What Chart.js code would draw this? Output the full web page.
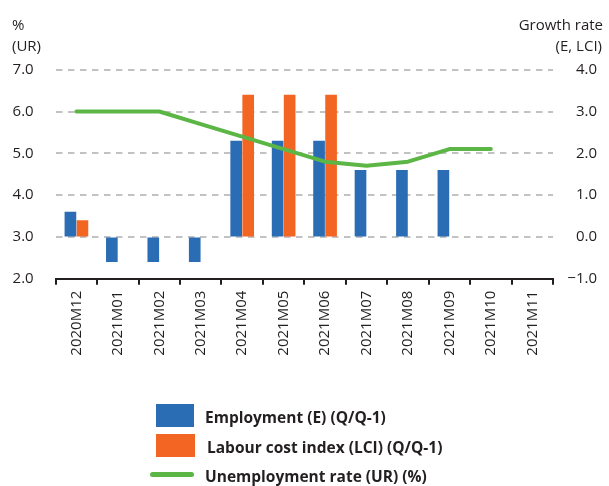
<!DOCTYPE html>
<html>
<head>
<meta charset="utf-8">
<script src="https://cdn.jsdelivr.net/npm/chart.js@4"></script>
<style>
  html, body { margin: 0; padding: 0; background: #fff; }
  #wrap { position: relative; width: 609px; height: 486px; font-family: 'Open Sans', sans-serif; color: #231f20; }
  #wrap canvas { position: absolute; left: 0; top: 0; }
  .lbl { position: absolute; font-size: 15px; line-height: 20px; white-space: nowrap; }
  .leg { position: absolute; font-size: 15.5px; font-weight: bold; line-height: 20px; white-space: nowrap; }
  .box { position: absolute; }
</style>
</head>
<body>
<div id="wrap">
  <canvas id="chart" width="609" height="486"></canvas>
  <div class="lbl" style="left:12px;top:14px">%</div>
  <div class="lbl" style="left:12px;top:35px">(UR)</div>
  <div class="lbl" style="right:6px;top:14px;text-align:right">Growth rate</div>
  <div class="lbl" style="right:7px;top:35px;text-align:right">(E, LCI)</div>

  <div class="box" style="left:156px;top:404px;width:38px;height:23px;background:#2a6db5"></div>
  <div class="leg" style="left:205px;top:407px">Employment (E) (Q/Q-1)</div>
  <div class="box" style="left:156px;top:434px;width:39px;height:23px;background:#f26522"></div>
  <div class="leg" style="left:207px;top:437px">Labour cost index (LCI) (Q/Q-1)</div>
  <div class="box" style="left:150px;top:472px;width:44px;height:5px;border-radius:3px;background:#5cb646"></div>
  <div class="leg" style="left:205px;top:466px">Unemployment rate (UR) (%)</div>
</div>
<script>
const months = ['2020M12', '2021M01', '2021M02', '2021M03', '2021M04', '2021M05', '2021M06', '2021M07', '2021M08', '2021M09', '2021M10', '2021M11']
const employment = [0.6, -0.6, -0.6, -0.6, 2.3, 2.3, 2.3, 1.6, 1.6, 1.6, null, null]
const labourCost = [0.4, null, null, null, 3.4, 3.4, 3.4, null, null, null, null, null]
const unemployment = [6.0, 6.0, 6.0, 5.7, 5.4, 5.1, 4.8, 4.7, 4.8, 5.1, 5.1, null]

const fontSpec = { family: "'Open Sans', sans-serif", size: 15 }
const fmt = v => (v < 0 ? '\u2212' : '') + Math.abs(v).toFixed(1)

new Chart(document.getElementById('chart').getContext('2d'), {
  type: 'bar',
  data: {
    labels: months,
    datasets: [
      {
        type: 'line',
        label: 'Unemployment rate (UR) (%)',
        data: unemployment,
        yAxisID: 'yUR',
        borderColor: '#5cb646',
        borderWidth: 4,
        pointRadius: 0,
        tension: 0,
        borderCapStyle: 'round',
        borderJoinStyle: 'round',
        order: 0
      },
      {
        label: 'Employment (E) (Q/Q-1)',
        data: employment,
        yAxisID: 'yGR',
        backgroundColor: '#2a6db5',
        order: 1
      },
      {
        label: 'Labour cost index (LCI) (Q/Q-1)',
        data: labourCost,
        yAxisID: 'yGR',
        backgroundColor: '#f26522',
        order: 1
      }
    ]
  },
  options: {
    responsive: false,
    animation: false,
    datasets: { bar: { categoryPercentage: 0.58, barPercentage: 0.97 } },
    layout: { padding: { left: 0, right: 12, top: 69.7, bottom: 117.3 } },
    plugins: { legend: { display: false }, tooltip: { enabled: false } },
    scales: {
      x: {
        offset: true,
        grid: { drawOnChartArea: false, drawTicks: true, tickLength: 6, color: '#231f20', lineWidth: 2, offset: true },
        border: { color: '#231f20', width: 2 },
        ticks: { maxRotation: 90, minRotation: 90, autoSkip: false, color: '#231f20', font: fontSpec, padding: 6 },
        afterFit: s => { s.height = 90 }
      },
      yUR: {
        position: 'left',
        min: 2,
        max: 7,
        ticks: { stepSize: 1, callback: fmt, color: '#231f20', font: fontSpec, padding: 22 },
        grid: { color: '#c2c2c2', lineWidth: 2, drawTicks: false },
        border: { display: false, dash: [6.5, 5.5] },
        afterFit: s => { s.width = 55.7 }
      },
      yGR: {
        position: 'right',
        min: -1,
        max: 4,
        ticks: { stepSize: 1, callback: fmt, color: '#231f20', font: fontSpec, crossAlign: 'far' },
        grid: { drawOnChartArea: false, drawTicks: false },
        border: { display: false },
        afterFit: s => { s.width = 44 }
      }
    }
  }
})
</script>
</body>
</html>
